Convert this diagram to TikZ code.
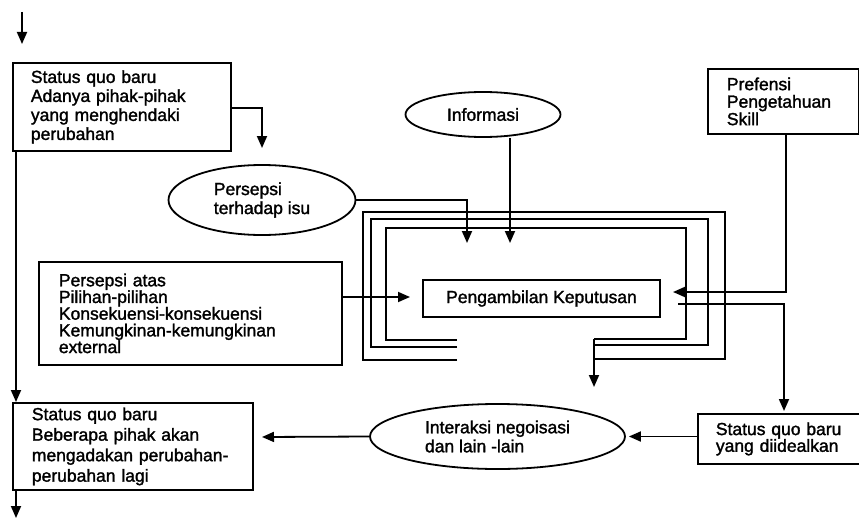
\documentclass[tikz,border=0pt]{standalone}
\usepackage{fontspec}
\setmainfont{Liberation Sans}[RawFeature={embolden=1.6}]
\usetikzlibrary{arrows.meta,shapes.geometric}
\begin{document}
\begin{tikzpicture}[x=1pt,y=-1pt,
  ln/.style={line width=1.8pt},
  arr/.style={ln,-{Triangle[length=12pt,width=10pt]}},
  tbox/.style={draw,ln,rectangle,anchor=north west,align=left,inner ysep=0pt},
  ell/.style={draw,ln,ellipse,inner sep=0pt,align=left},
  fs/.style={font=\fontsize{17.5}{#1}\selectfont}
]
\useasboundingbox (0,0) rectangle (859,519);

% boxes
\node[tbox,fs=19,inner xsep=18pt,text width=182pt,minimum width=218pt,minimum height=88pt] (sq1) at (12,62)
  {Status quo baru\\Adanya pihak-pihak\\yang menghendaki\\perubahan};
\node[tbox,fs=20.5,inner xsep=19pt,text width=202pt,minimum width=240pt,minimum height=87pt] (sq2) at (12,402)
  {Status quo baru\\Beberapa pihak akan\\\mbox{mengadakan perubahan-}\\perubahan lagi};
\node[tbox,fs=16.7,inner xsep=20pt,text width=263pt,minimum width=303pt,minimum height=103pt] (atas) at (38,261)
  {Persepsi atas\\Pilihan-pilihan\\Konsekuensi-konsekuensi\\Kemungkinan-kemungkinan\\external};
\node[tbox,fs=17.5,inner xsep=19pt,text width=113pt,minimum width=151pt,minimum height=65pt] (pref) at (707,68)
  {Prefensi\\Pengetahuan\\Skill};
\node[tbox,fs=16.7,inner xsep=18pt,text width=126pt,minimum width=162pt,minimum height=50pt] (ideal) at (697,413)
  {\mbox{Status quo baru}\\\mbox{yang diidealkan}};
\node[draw,ln,rectangle,fs=19,minimum width=237pt,minimum height=37pt,inner sep=0pt] (pk) at (541.5,298.5)
  {Pengambilan Keputusan};

% ellipses
\node[ell,fs=19,minimum width=155pt,minimum height=45pt] (info) at (483,114.5) {Informasi};
\node[ell,fs=19,minimum width=187pt,minimum height=70pt] (pers) at (262,200) {Persepsi\\terhadap isu};
\node[ell,fs=19,minimum width=255pt,minimum height=65pt] (inter) at (497.5,436.5) {Interaksi negoisasi\\dan lain -lain};

% free ends
\coordinate (topA) at (22,12);
\coordinate (topB) at (22,44);
\coordinate (sq1tip) at (262,148);
\coordinate (infotip) at (510,243);
\coordinate (perstip) at (467,243);
\coordinate (pkL) at (410,297);
\coordinate (prefX) at (786,292);
\coordinate (pkR) at (673,292);
\coordinate (outS) at (678,304);
\coordinate (idealtip) at (784,411);
\coordinate (sq2tip) at (262,437);
\coordinate (bottip) at (16,518);
\coordinate (nestX) at (594,339);
\coordinate (nesttip) at (594,387);

% connectors
\draw[arr] (topA) -- (topB);
\draw[arr] (sq1.east |- 0,108) -| (sq1tip);
\draw[arr] ([xshift=4pt]sq1.south west) -- ([xshift=4pt]sq2.north west);
\draw[arr] ([xshift=4pt]sq2.south west) -- (bottip);
\draw[arr] (infotip |- info.south) -- (infotip);
\draw[arr] (pers.east) -| (perstip);
\draw[arr] (atas.east |- pkL) -- (pkL);
\draw[arr] (prefX |- pref.south) -- (prefX) -- (pkR);
\draw[arr] (outS) -| (idealtip);
\draw[arr] (ideal.west |- inter.east) -- ([xshift=3pt]inter.east);
\draw[arr] (inter.west) -- (sq2tip);

% nested loops around the decision
\draw[ln] (457,360) -- (363,360) -- (363,212) -- (725,212) -- (725,359) -- (594,359);
\draw[ln] (457,347) -- (371,347) -- (371,219) -- (708,219) -- (708,345) -- (594,345);
\draw[ln] (457,340) -- (386,340) -- (386,228) -- (686,228) -- (686,339) -- (nestX);
\draw[arr] (nestX) -- (594,359) -- (nesttip);
\end{tikzpicture}
\end{document}
